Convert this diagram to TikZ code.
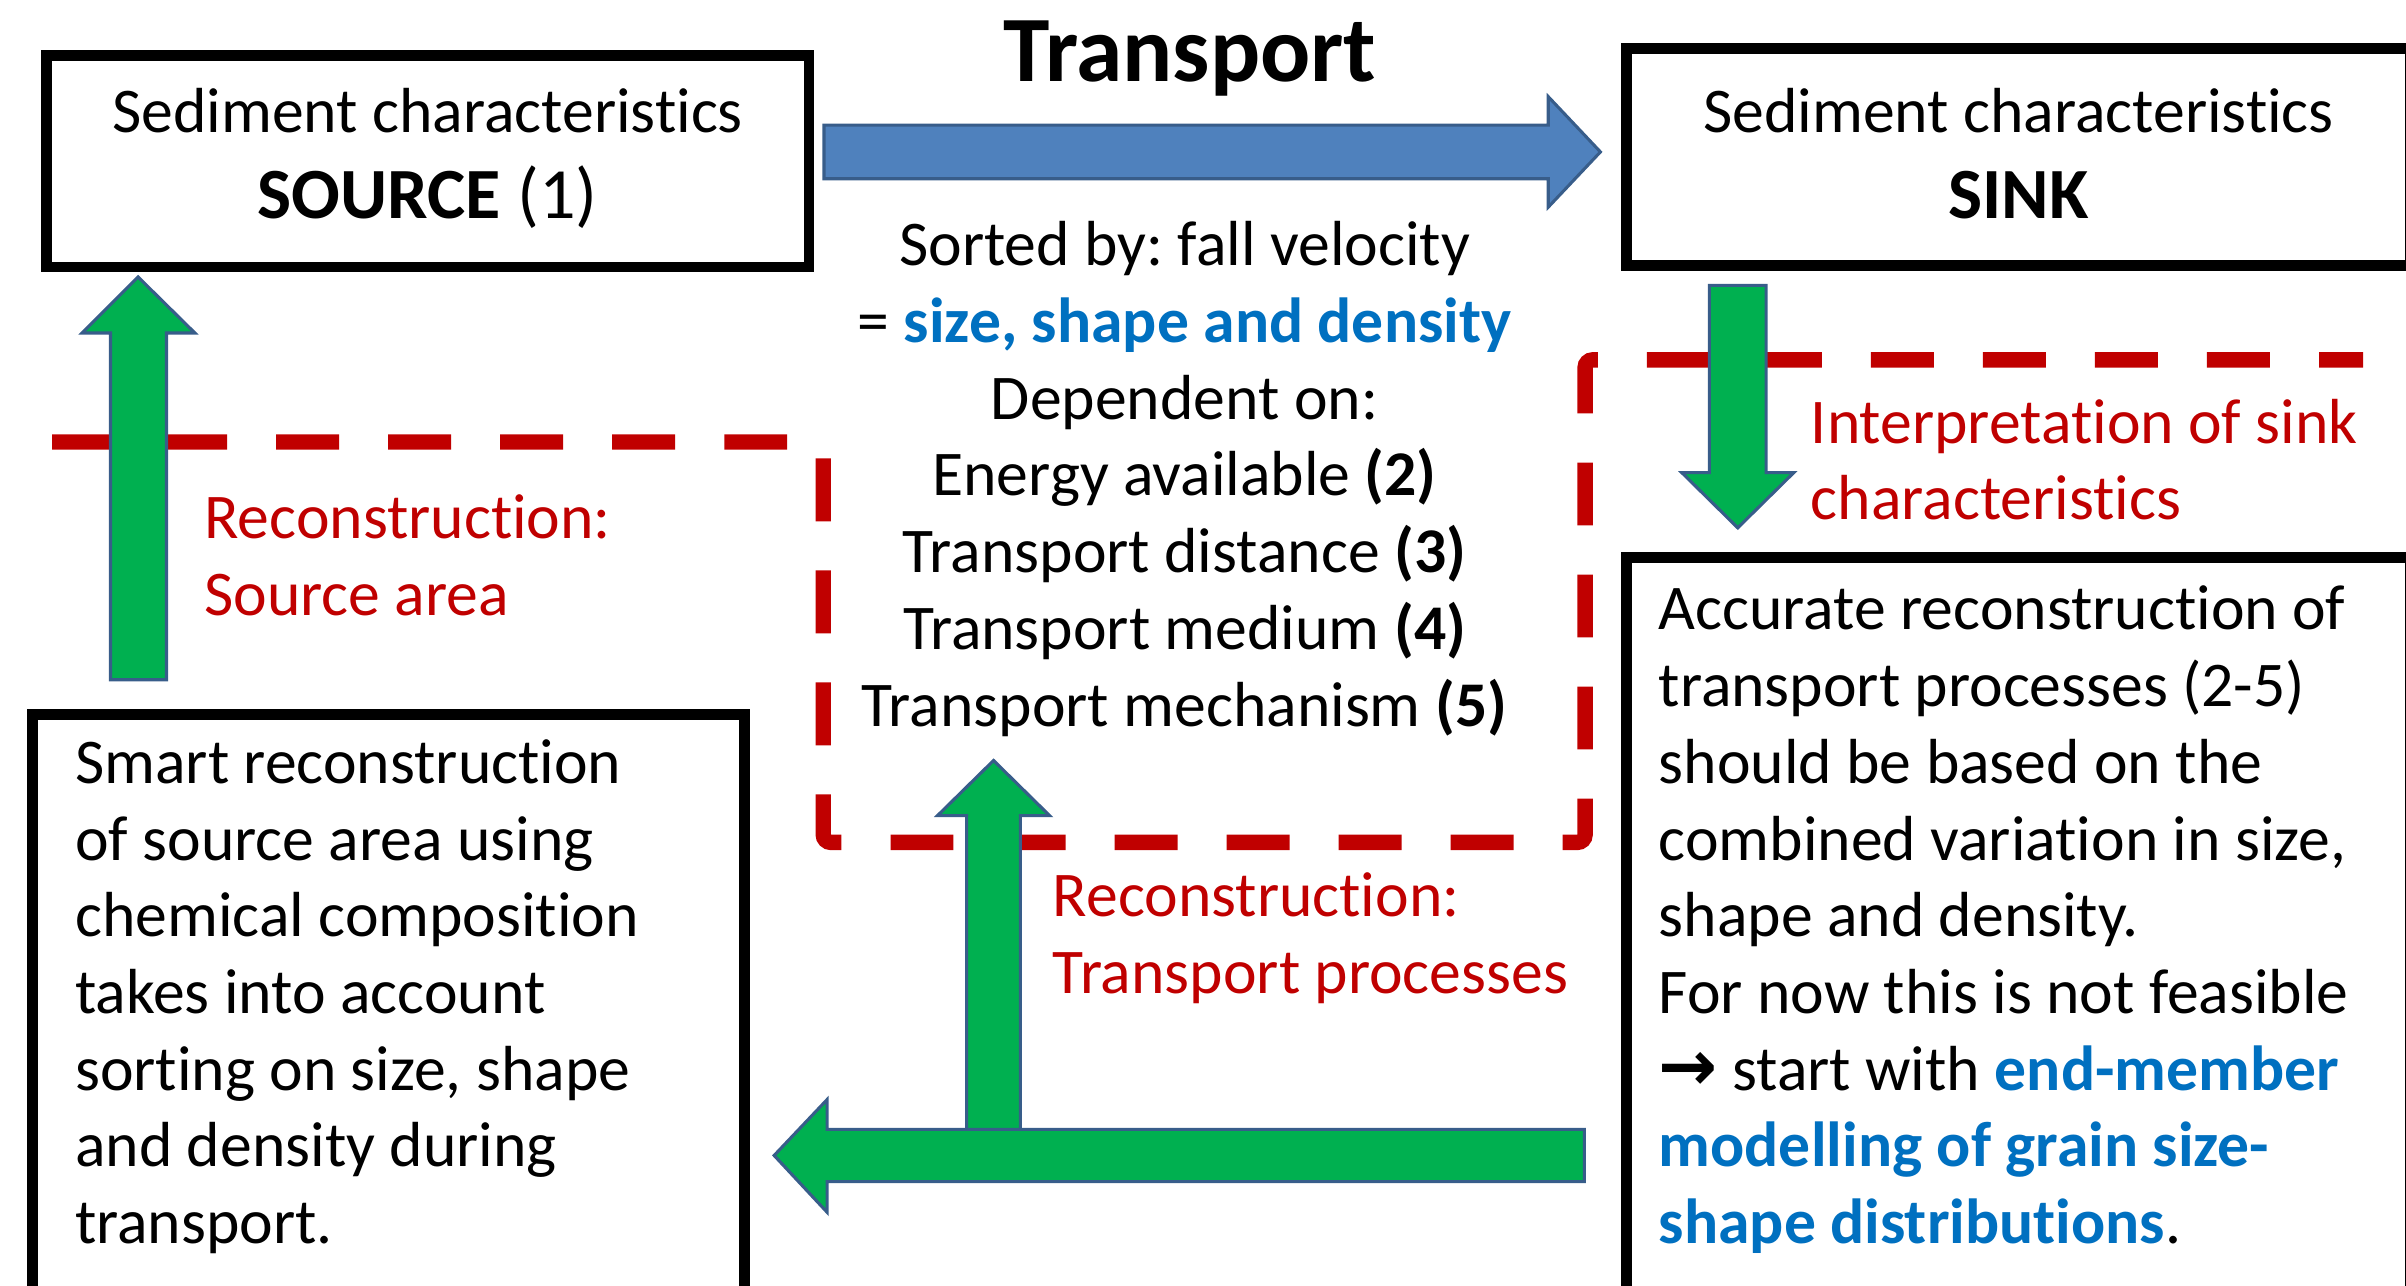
\documentclass[tikz,border=0pt]{standalone}
\usepackage{fontspec}
\setmainfont{Carlito}[Ligatures={NoCommon}]
\newfontfamily\arrowfont{DejaVu Sans}
\frenchspacing
\definecolor{sinkred}{HTML}{C00000}
\definecolor{textblue}{HTML}{0070C0}
\definecolor{arrowgreen}{HTML}{00B050}
\definecolor{arrowblue}{HTML}{4F81BD}
\definecolor{arrowedge}{HTML}{385D8A}
\tikzset{
  box/.style={draw=black, line width=7pt, fill=white, anchor=north west,
    text height=29pt, font=\fontsize{41.5}{50}\selectfont},
  greenarrow/.style={fill=arrowgreen, draw=arrowedge, line width=2pt},
  bluearrow/.style={fill=arrowblue, draw=arrowedge, line width=2pt},
  redlabel/.style={text=sinkred, align=flush left, text width=420pt,
    anchor=north west, inner sep=0pt, text height=29pt,
    font=\fontsize{41.5}{50}\selectfont},
  boundary/.style={draw=sinkred, line width=10pt, dash pattern=on 41pt off 32pt,
    rounded corners=5pt}
}
\begin{document}
\begin{tikzpicture}[x=1pt,y=-1pt]
  \useasboundingbox (0,0) rectangle (1568,838);
  \clip (0,0) rectangle (1568,838);
  % Dashed boundary round the transport part
  \draw[boundary] (34,288) -- (536.5,288) -- (536.5,549) -- (1033,549)
    -- (1033,234.5) -- (1540,234.5);
  % Transport arrow
  \draw[bluearrow] (537,81.5) -- (1009,81.5) -- (1009,63) -- (1043,99)
    -- (1009,135) -- (1009,116.5) -- (537,116.5) -- cycle;
  \node[font=\fontsize{61}{61}\selectfont\bfseries, anchor=base] (title)
    at (775.5,53.4) {Transport};
  % Source reconstruction arrow
  \draw[greenarrow] (72,443) -- (72,217) -- (53.5,217) -- (90,180.5)
    -- (127,217) -- (108.5,217) -- (108.5,443) -- cycle;
  % Sink interpretation arrow
  \draw[greenarrow] (1114,186) -- (1151,186) -- (1151,308) -- (1169,308)
    -- (1132.5,344) -- (1096,308) -- (1114,308) -- cycle;
  % Process reconstruction arrows
  \draw[greenarrow] (630,740) -- (630,531.5) -- (611,531.5) -- (647.5,495.6)
    -- (684,531.5) -- (665,531.5) -- (665,740) -- cycle;
  \draw[greenarrow] (1032.5,736) -- (539,736) -- (539,716.6) -- (504.5,753)
    -- (539,790) -- (539,770) -- (1032.5,770) -- cycle;
  % Boxes
  \node[box, align=flush center, text width=477pt, inner xsep=10pt, inner ysep=21.5pt,
    text depth=66pt] (source) at (26.7,32.5)
    {Sediment characteristics\\[6pt]{\fontsize{47}{56}\selectfont\textbf{SOURCE} (1)}};
  \node[box, align=flush center, text width=491pt, inner xsep=10pt, inner ysep=26.1pt,
    text depth=60.4pt] (sink) at (1056.5,27.9)
    {Sediment characteristics\\[6pt]{\fontsize{47}{56}\selectfont\textbf{SINK}}};
  \node[box, align=flush left, text width=408pt, inner xsep=28pt, inner ysep=16pt,
    text depth=316pt] (smart) at (17.5,462)
    {Smart reconstruction\\ of source area using\\ chemical composition\\
     takes into account\\ sorting on size, shape\\ and density during\\ transport.};
  \node[box, align=flush left, text width=469pt, inner xsep=21pt, inner ysep=18pt,
    text depth=414pt] (accurate) at (1056.5,360)
    {Accurate reconstruction of\\ transport processes (2-5)\\ should be based on the\\
     combined variation in size,\\ shape and density.\\ For now this is not feasible\\
     {\arrowfont\bfseries\fontsize{46}{50}\selectfont →} start with \textcolor{textblue}{\textbf{end-member}}\\
     \textcolor{textblue}{\textbf{modelling of grain size-}}\\
     \textcolor{textblue}{\textbf{shape distributions}}.};
  % Sorting text
  \node[anchor=north, inner sep=0pt, text height=29pt, align=flush center,
    text width=480pt, font=\fontsize{41.5}{50}\selectfont] (sorting) at (772,144)
    {Sorted by: fall velocity\\
     = \textcolor{textblue}{\textbf{size, shape and density}}\\
     Dependent on:\\
     Energy available \textbf{(2)}\\
     Transport distance \textbf{(3)}\\
     Transport medium \textbf{(4)}\\
     Transport mechanism \textbf{(5)}};
  % Red labels
  \node[redlabel] (srclabel) at (133,322) {Reconstruction:\\Source area};
  \node[redlabel] (sinklabel) at (1180,259.6) {Interpretation of sink\\characteristics};
  \node[redlabel] (proclabel) at (686,568) {Reconstruction:\\Transport processes};
\end{tikzpicture}
\end{document}
